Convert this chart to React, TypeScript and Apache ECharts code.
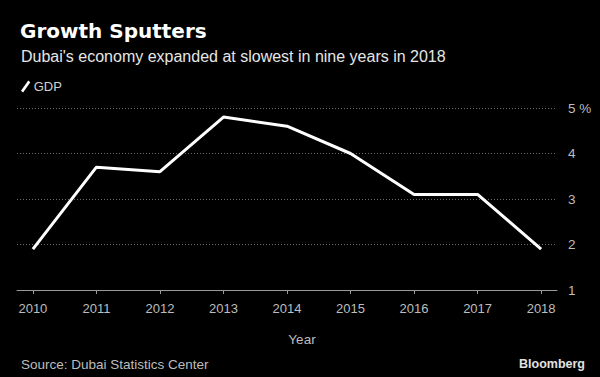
import React, { useEffect, useRef } from "react";
import * as echarts from "echarts";

const years = [2010, 2011, 2012, 2013, 2014, 2015, 2016, 2017, 2018];
const gdp = [1.9, 3.7, 3.6, 4.8, 4.6, 4.0, 3.1, 3.1, 1.9];
const yTicks = [1, 2, 3, 4, 5];

const FONT = "'Liberation Sans', Arial, sans-serif";

export default function App() {
  const ref = useRef<HTMLDivElement>(null);
  useEffect(() => {
    if (!ref.current) return;
    const chart = echarts.init(ref.current, undefined, { renderer: "svg" });
    chart.setOption({
      animation: false,
      backgroundColor: "#000000",
      textStyle: { fontFamily: FONT },
      title: [
        {
          text: "Growth Sputters",
          left: 15,
          top: 16,
          textStyle: { color: "#ffffff", fontSize: 20, fontWeight: "bold", fontFamily: "'DejaVu Sans', sans-serif" },
        },
        {
          text: "Dubai's economy expanded at slowest in nine years in 2018",
          left: 16,
          top: 43,
          textStyle: { color: "#e6e6e6", fontSize: 16, fontWeight: "normal", fontFamily: FONT },
        },
        {
          text: "Source: Dubai Statistics Center",
          left: 16,
          top: 352,
          textStyle: { color: "#bdbdbd", fontSize: 13.5, fontWeight: "normal", fontFamily: FONT },
        },
        {
          text: "Bloomberg",
          right: 10,
          top: 352,
          textStyle: { color: "#e0e0e0", fontSize: 12.5, fontWeight: "bold", fontFamily: FONT },
        },
      ],
      legend: {
        left: 16,
        top: 75,
        itemWidth: 10,
        itemHeight: 12,
        itemGap: 6,
        textStyle: { color: "#d0d0d0", fontSize: 13, fontFamily: FONT, padding: [0, 0, 0, -2] },
        data: [{ name: "GDP", icon: "path://M0,10 L7,0 L9,1.6 L2,11.6 Z", itemStyle: { color: "#ffffff" } }],
      },
      grid: { left: 17, right: 43, top: 108, bottom: 87 },
      xAxis: {
        type: "value",
        min: 2009.75,
        max: 2018.25,
        name: "Year",
        nameLocation: "middle",
        nameGap: 42,
        nameTextStyle: { color: "#bdbdbd", fontSize: 13.5, fontFamily: FONT, padding: [0, 0, 0, 30] },
        axisLine: { show: true, lineStyle: { color: "#9a9a9a", width: 1 } },
        axisTick: { show: true, length: 4, customValues: years, lineStyle: { color: "#9a9a9a" } },
        axisLabel: {
          customValues: years,
          color: "#bdbdbd",
          fontSize: 13,
          margin: 12,
          formatter: (v: number) => String(v),
        },
        splitLine: { show: false },
      },
      yAxis: {
        type: "value",
        position: "right",
        min: yTicks[0],
        max: yTicks[yTicks.length - 1],
        interval: 1,
        axisLine: { show: false },
        axisTick: { show: false },
        axisLabel: {
          color: "#bdbdbd",
          fontSize: 13.5,
          margin: 11,
          formatter: (v: number) => (v === 5 ? "5 %" : String(v)),
        },
        splitLine: { show: true, lineStyle: { color: "#6a6a6a", type: [1, 2], width: 1 } },
      },
      series: [
        {
          name: "GDP",
          type: "line",
          data: years.map((y, i) => [y, gdp[i]]),
          showSymbol: false,
          symbol: "none",
          lineStyle: { color: "#ffffff", width: 3 },
          itemStyle: { color: "#ffffff" },
        },
      ],
    });
    return () => chart.dispose();
  }, []);
  return <div ref={ref} style={{ width: 600, height: 377, position: "absolute", left: 0, top: 0 }} />;
}
